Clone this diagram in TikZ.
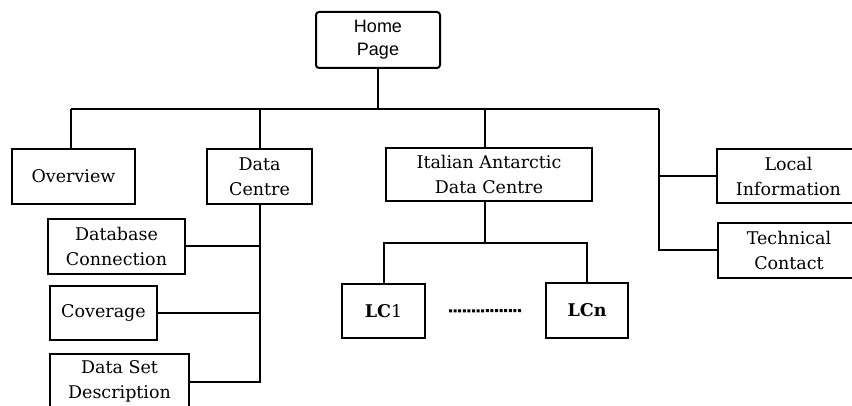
\documentclass[tikz,border=0pt]{standalone}
\usepackage{fontspec}
\setmainfont{DejaVu Serif}
\newfontfamily\homefont{Liberation Sans}
\begin{document}
\begin{tikzpicture}[x=1pt,y=-1pt,
  box/.style={draw,line width=2pt,inner sep=0pt,align=center,font=\fontsize{17.5}{25}\selectfont},
  link/.style={line width=2pt}]
\useasboundingbox (0,0) rectangle (852,406);
\node[box,rounded corners=3pt,minimum width=124,minimum height=56,font=\homefont\fontsize{18}{23}\selectfont] (home) at (378,40) {Home\\Page};
\node[box,minimum width=123,minimum height=55] (over) at (73.5,176.5) {Overview};
\node[box,minimum width=105,minimum height=55] (dc) at (259.5,176.5) {Data\\Centre};
\node[box,minimum width=206,minimum height=53] (iadc) at (489,174.5) {Italian Antarctic\\Data Centre};
\node[box,minimum width=143,minimum height=54] (local) at (788.5,176) {Local\\Information};
\node[box,minimum width=142,minimum height=55] (tech) at (789,250.5) {Technical\\Contact};
\node[box,minimum width=137,minimum height=55] (dbc) at (116.5,246.5) {Database\\Connection};
\node[box,minimum width=107,minimum height=54] (cov) at (103.5,313) {Coverage};
\node[box,minimum width=139,minimum height=55] (dsd) at (119.5,381.5) {Data Set\\Description};
\node[box,minimum width=83,minimum height=54] (lc1) at (383.5,311) {\textbf{LC}1};
\node[box,minimum width=82,minimum height=55] (lcn) at (587,310.5) {\textbf{LCn}};
\coordinate (busL) at (71,109);
\coordinate (busR) at (659,109);
\coordinate (busI) at (485,109);
\coordinate (split) at (485,243);
\draw[link] (busL) -- (busR);
\draw[link] (home.south) -- (home.south |- busL);
\draw[link] (busL) -- (busL |- over.north);
\draw[link] (dc.north) -- (dc.north |- busL);
\draw[link] (busI) -- (busI |- iadc.north);
\draw[link] (busR) -- (busR |- tech.west) -- (tech.west);
\draw[link] (busR |- local.west) -- (local.west);
\draw[link] (dc.south) -- (dc.south |- dsd.east) -- (dsd.east);
\draw[link] (dbc.east) -- (dbc.east -| dc.south);
\draw[link] (cov.east) -- (cov.east -| dc.south);
\draw[link] (split |- iadc.south) -- (split);
\draw[link] (lc1.north) |- (split) -| (lcn.north);
\draw[line width=3pt,dash pattern=on 3pt off 1.6pt,shorten <=23pt,shorten >=23pt] (lc1.east) -- (lcn.west);
\end{tikzpicture}
\end{document}
